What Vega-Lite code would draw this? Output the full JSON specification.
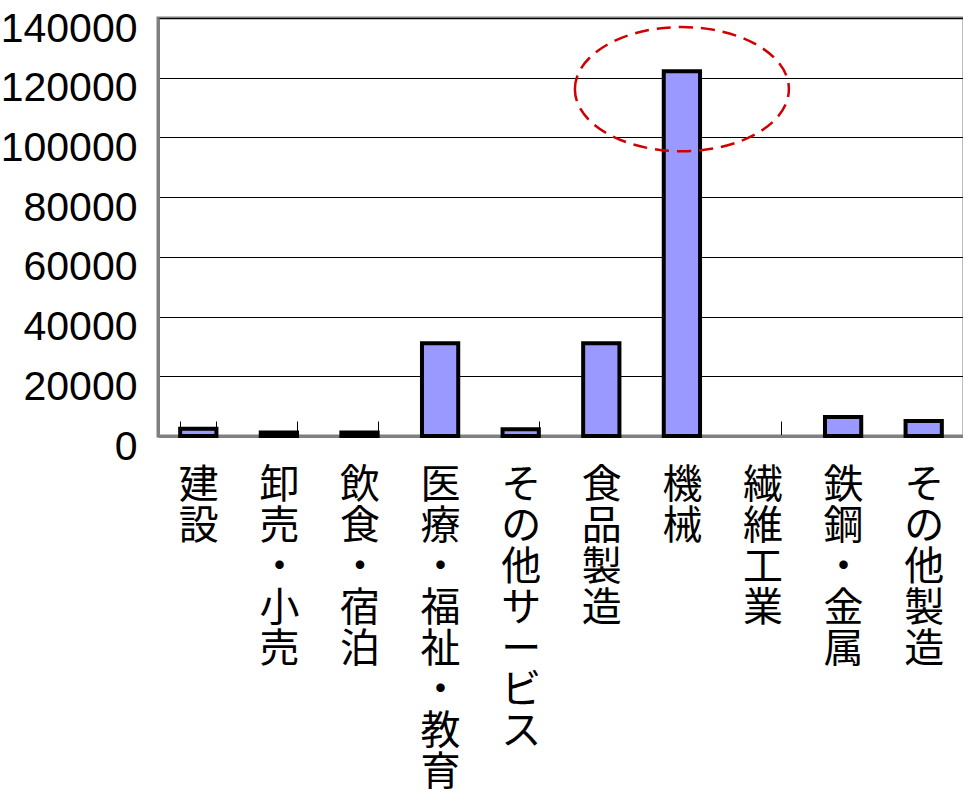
{
  "$schema": "https://vega.github.io/schema/vega-lite/v6.json",
  "autosize": {"type": "none"},
  "padding": {"left": 158, "top": 18, "right": 0, "bottom": 363},
  "width": 806,
  "height": 418,
  "background": "white",
  "config": {
    "view": {"stroke": "#808080", "strokeWidth": 3},
    "axis": {"labelColor": "black"}
  },
  "data": {
    "values": [
      {"category": "建設", "value": 2400},
      {"category": "卸売・小売", "value": 1200},
      {"category": "飲食・宿泊", "value": 1200},
      {"category": "医療・福祉・教育", "value": 31100},
      {"category": "その他サービス", "value": 2300},
      {"category": "食品製造", "value": 31100},
      {"category": "機械", "value": 122200},
      {"category": "繊維工業", "value": null},
      {"category": "鉄鋼・金属", "value": 6400},
      {"category": "その他製造", "value": 5000}
    ]
  },
  "encoding": {
    "x": {
      "field": "category",
      "type": "nominal",
      "sort": null,
      "scale": {
        "domain": ["建設", "卸売・小売", "飲食・宿泊", "医療・福祉・教育", "その他サービス", "食品製造", "機械", "繊維工業", "鉄鋼・金属", "その他製造"],
        "paddingInner": 0.55,
        "paddingOuter": 0.275
      },
      "axis": {
        "title": null,
        "labelAngle": 0,
        "labelExpr": "split(datum.label, '')",
        "labelFont": "Noto Sans CJK JP",
        "labelFontSize": 40,
        "labelLineHeight": 41,
        "labelBaseline": "top",
        "labelPadding": 44,
        "labelLimit": 0,
        "labelOverlap": false,
        "tickBand": "extent",
        "tickSize": -15,
        "tickColor": "black",
        "tickWidth": 1,
        "domainColor": "#808080",
        "domainWidth": 3,
        "grid": false
      }
    },
    "y": {
      "field": "value",
      "type": "quantitative",
      "scale": {"domain": [0, 140000], "nice": false},
      "axis": {
        "title": null,
        "values": [0, 20000, 40000, 60000, 80000, 100000, 120000, 140000],
        "format": "d",
        "labelFont": "Liberation Sans",
        "labelFontSize": 41,
        "labelPadding": 21,
        "labelOffset": 11,
        "labelFlush": false,
        "ticks": false,
        "grid": true,
        "gridColor": "black",
        "gridWidth": 1,
        "gridOpacity": 1,
        "domainColor": "#808080",
        "domainWidth": 3
      }
    }
  },
  "layer": [
    {
      "mark": {"type": "bar", "color": "#9999FF", "stroke": "black", "strokeWidth": 4}
    },
    {
      "transform": [{"filter": "datum.category === '機械'"}],
      "mark": {
        "type": "point",
        "shape": "M -1 0 A 1 0.58 0 1 1 1 0 A 1 0.58 0 1 1 -1 0 Z",
        "size": 45796,
        "filled": false,
        "stroke": "#D00000",
        "strokeWidth": 2.5,
        "strokeDash": [14, 8],
        "opacity": 1,
        "yOffset": 18
      }
    }
  ]
}
